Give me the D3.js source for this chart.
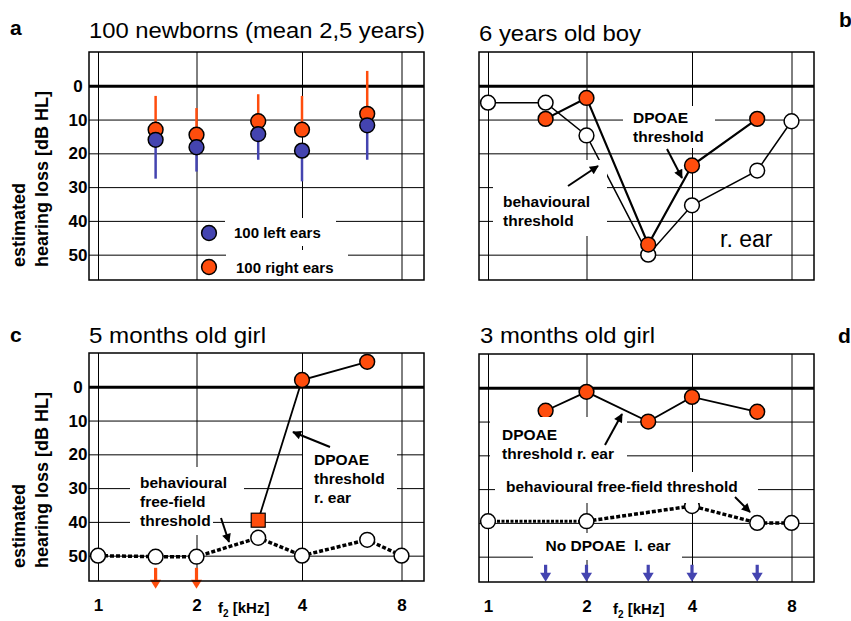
<!DOCTYPE html>
<html>
<head>
<meta charset="utf-8">
<script src="https://cdn.jsdelivr.net/npm/d3@7"></script>
<style>
  body { margin: 0; background: #fff; }
  svg { display: block; font-family: "Liberation Sans", Arial, Helvetica, sans-serif; }
</style>
</head>
<body>
<svg id="chart"></svg>
<script>
// ---- data ----
const freqTicks = [1, 2, 4, 8];
const dbTicks = [0, 10, 20, 30, 40, 50];
const dpFreqs = [1.5, 2, 3, 4, 6.3];

// a: 100 newborns
const newbornRight = [13, 14.5, 10.5, 13, 8.3];
const newbornRightUpper = [3, 6.6, 2.5, 3, -4.4];
const newbornLeft = [16, 18.2, 14.3, 19.2, 11.7];
const newbornLeftLower = [27.5, 25.4, 21.9, 28.3, 21.9];

// b: 6 years old boy
const boyFreqs = [1, 1.5, 2, 3, 4, 6.3, 8];
const boyBehav = [5, 5, 14.7, 50, 35.4, 25.1, 10.5];
const boyDpoae = [9.8, 3.6, 47, 23.6, 9.8];

// c: 5 months old girl
const girl5Freqs = [1, 1.5, 2, 3, 4, 6.3, 8];
const girl5Behav = [50, 50.3, 50.3, 44.7, 50, 45.3, 50];
const girl5DpFreqs = [3, 4, 6.3];
const girl5Dpoae = [39.5, -2, -7.4];
const girl5NoDp = [1.5, 2];

// d: 3 months old girl
const girl3Freqs = [1, 2, 4, 6.3, 8];
const girl3Behav = [39.5, 39.5, 35, 40, 40];
const girl3Dpoae = [6.8, 1.2, 10, 2.7, 7.1];
const girl3NoDp = [1.5, 2, 3, 4, 6.3];

const titles = ["100 newborns (mean 2,5 years)", "6 years old boy", "5 months old girl", "3 months old girl"];
const letters = ["a", "b", "c", "d"];

// ---- drawing ----
const orange = "#ff4d0d", blue = "#4444b0";
const X0 = 89, X1 = 424, Y0 = 52, Y1 = 280;

const svg = d3.select("#chart").attr("width", 851).attr("height", 621);
svg.append("rect").attr("width", 851).attr("height", 621).attr("fill", "#fff");

svg.append("defs").append("marker")
    .attr("id", "head").attr("viewBox", "0 0 10 10")
    .attr("refX", 9).attr("refY", 5)
    .attr("markerWidth", 10).attr("markerHeight", 9)
    .attr("markerUnits", "userSpaceOnUse").attr("orient", "auto")
  .append("path").attr("d", "M0,0L10,5L0,10z").attr("fill", "#000");

const x = d3.scaleLog().domain(freqTicks).range([98, 196.5, 302, 401.5]);
const y = d3.scaleLinear().domain([-10, 57.5]).range([Y0, Y1]);

// small helpers
function txt(g, px, py, s, size, weight, anchor) {
    return g.append("text").attr("x", px).attr("y", py).attr("dy", "0.35em")
        .attr("font-size", size).attr("font-weight", weight || "bold")
        .attr("text-anchor", anchor || "start").attr("fill", "#000").text(s);
}
function box(g, bx, by, bw, bh) {
    g.append("rect").attr("x", bx).attr("y", by).attr("width", bw).attr("height", bh).attr("fill", "#fff");
}
function arrow(g, x1, y1, x2, y2) {
    g.append("line").attr("x1", x1).attr("y1", y1).attr("x2", x2).attr("y2", y2)
        .attr("stroke", "#000").attr("stroke-width", 2).attr("marker-end", "url(#head)");
}
function dots(g, xs, ys, fill) {
    g.append("g").selectAll("circle").data(xs).join("circle")
        .attr("cx", d => x(d)).attr("cy", (d, i) => y(ys[i])).attr("r", 7.4)
        .attr("fill", fill).attr("stroke", "#000").attr("stroke-width", 1.5);
}
function line(g, xs, ys, width, dash) {
    const p = d3.line().x(d => x(d[0])).y(d => y(d[1]));
    g.append("path").attr("d", p(xs.map((f, i) => [f, ys[i]])))
        .attr("fill", "none").attr("stroke", "#000").attr("stroke-width", width)
        .attr("stroke-dasharray", dash || null);
}
function downArrows(g, xs, dbTop, dbTip, color) {
    xs.forEach(f => {
        const cx = x(f), t = y(dbTop), tip = y(dbTip);
        g.append("line").attr("x1", cx).attr("x2", cx).attr("y1", t).attr("y2", tip - 8)
            .attr("stroke", color).attr("stroke-width", 3.2);
        g.append("path").attr("d", `M${cx - 5.5},${tip - 9}L${cx + 5.5},${tip - 9}L${cx},${tip}Z`).attr("fill", color);
    });
}

const panels = [
    { dx: 0,   dy: 0,   tx: 89, ty: 38, tw: 336, lx: 10,  ly: 35 },
    { dx: 390, dy: 0,   tx: 89, ty: 41, tw: 162, lx: 449, ly: 27 },
    { dx: 0,   dy: 301, tx: 89, ty: 42, tw: 177, lx: 10,  ly: 41 },
    { dx: 390, dy: 302, tx: 90, ty: 41, tw: 175, lx: 448, ly: 41 }
];

panels.forEach((p, k) => {
    const g = svg.append("g").attr("transform", `translate(${p.dx},${p.dy})`);
    const left = k % 2 === 0, bottom = k >= 2;

    // title and panel letter
    g.append("text").attr("x", p.tx).attr("y", p.ty).attr("font-size", 22)
        .attr("textLength", p.tw).attr("lengthAdjust", "spacingAndGlyphs").text(titles[k]);
    g.append("text").attr("x", p.lx).attr("y", p.ly).attr("font-size", 21)
        .attr("font-weight", "bold").text(letters[k]);

    // horizontal grid + dB labels
    const gy = g.append("g").attr("transform", `translate(${X0},0)`)
        .call(d3.axisLeft(y).tickValues(dbTicks).tickSize(-(X1 - X0)).tickPadding(0)
            .tickFormat(left ? d3.format("d") : () => ""));
    gy.select(".domain").remove();
    gy.selectAll(".tick line").attr("stroke", "#000").attr("stroke-width", d => d === 0 ? 3 : 1);
    gy.selectAll(".tick text").attr("x", 78 - X0).attr("text-anchor", "middle")
        .attr("font-size", 17).attr("font-weight", "bold").attr("fill", "#000");
    gy.attr("font-family", null).attr("font-size", null);

    // vertical grid + kHz labels
    const gx = g.append("g").attr("transform", `translate(0,${Y1})`)
        .call(d3.axisBottom(x).tickValues(freqTicks).tickSize(-(Y1 - Y0)).tickPadding(18)
            .tickFormat(bottom ? d3.format("d") : () => ""));
    gx.select(".domain").remove();
    gx.selectAll(".tick line").attr("stroke", "#000").attr("stroke-width", 1);
    gx.selectAll(".tick text").attr("font-size", 17).attr("font-weight", "bold")
        .attr("fill", "#000");
    gx.attr("font-family", null).attr("font-size", null);

    if (left) {
        // rotated axis title, reading upward from y = 267
        const yt = g.append("g").attr("transform", "translate(0,267) rotate(-90)");
        yt.append("text").attr("x", 0).attr("y", 19).attr("dy", "0.35em").attr("text-anchor", "start")
            .attr("font-size", 18).attr("font-weight", "bold").text("estimated");
        yt.append("text").attr("x", 0).attr("y", 42).attr("dy", "0.35em").attr("text-anchor", "start")
            .attr("font-size", 18).attr("font-weight", "bold").text("hearing loss [dB HL]");
    }
    if (bottom) {
        const fx = k === 2 ? 218 : 223;
        const t = g.append("text").attr("x", fx).attr("y", 312).attr("font-size", 15).attr("font-weight", "bold");
        t.append("tspan").text("f");
        t.append("tspan").attr("font-size", 10).attr("dy", 4).text("2");
        t.append("tspan").attr("dy", -4).text(" [kHz]");
    }

    const d = g.append("g");
    if (k === 0) {
        d.selectAll(".eb-r").data(dpFreqs).join("line")
            .attr("x1", f => x(f)).attr("x2", f => x(f))
            .attr("y1", (f, i) => y(newbornRightUpper[i])).attr("y2", (f, i) => y(newbornRight[i]))
            .attr("stroke", orange).attr("stroke-width", 2.5);
        d.selectAll(".eb-l").data(dpFreqs).join("line")
            .attr("x1", f => x(f)).attr("x2", f => x(f))
            .attr("y1", (f, i) => y(newbornLeft[i])).attr("y2", (f, i) => y(newbornLeftLower[i]))
            .attr("stroke", blue).attr("stroke-width", 2.5);
        dots(d, dpFreqs, newbornRight, orange);
        dots(d, dpFreqs, newbornLeft, blue);

        box(g, 225, 218, 111, 28);
        box(g, 226, 250, 122, 31);
        g.append("circle").attr("cx", 209).attr("cy", 233).attr("r", 7.4).attr("fill", blue)
            .attr("stroke", "#000").attr("stroke-width", 1.5);
        g.append("circle").attr("cx", 209).attr("cy", 267).attr("r", 7.4).attr("fill", orange)
            .attr("stroke", "#000").attr("stroke-width", 1.5);
        txt(g, 234, 233, "100 left ears", 15);
        txt(g, 236, 268, "100 right ears", 15);
    }
    if (k === 1) {
        line(d, boyFreqs, boyBehav, 1.5);
        line(d, dpFreqs, boyDpoae, 2.2);
        dots(d, boyFreqs, boyBehav, "#fff");
        dots(d, dpFreqs, boyDpoae, orange);

        box(g, 233, 106, 92, 42);
        txt(g, 243, 118, "DPOAE", 15.5);
        txt(g, 243, 137, "threshold", 15.5);
        arrow(g, 277, 149, 292, 178);
        box(g, 103, 160, 114, 76);
        txt(g, 113, 202, "behavioural", 15.5);
        txt(g, 113, 221, "threshold", 15.5);
        arrow(g, 178, 186, 208, 166);
        txt(g, 330, 239, "r. ear", 23, "normal");
    }
    if (k === 2) {
        line(d, girl5Freqs, girl5Behav, 3.5, "4,2");
        line(d, girl5DpFreqs, girl5Dpoae, 1.8);
        dots(d, girl5Freqs, girl5Behav, "#fff");
        dots(d, girl5DpFreqs.slice(1), girl5Dpoae.slice(1), orange);
        d.append("rect").attr("x", x(girl5DpFreqs[0]) - 7).attr("y", y(girl5Dpoae[0]) - 7)
            .attr("width", 14).attr("height", 14).attr("fill", orange)
            .attr("stroke", "#000").attr("stroke-width", 1.2);
        downArrows(d, girl5NoDp, 53.6, 59.8, orange);

        box(g, 130, 166, 114, 51);
        box(g, 130, 217, 83, 17);
        txt(g, 140, 182, "behavioural", 15.5);
        txt(g, 140, 201, "free-field", 15.5);
        txt(g, 140, 220, "threshold", 15.5);
        arrow(g, 221, 217, 229, 241);
        box(g, 303, 144, 94, 62);
        txt(g, 314, 159, "DPOAE", 15.5);
        txt(g, 314, 178, "threshold", 15.5);
        txt(g, 314, 197, "r. ear", 15.5);
        arrow(g, 330, 146, 293, 131);
    }
    if (k === 3) {
        line(d, girl3Freqs.slice(0, 2), girl3Behav.slice(0, 2), 3, "3,1.5");
        line(d, girl3Freqs.slice(1), girl3Behav.slice(1), 3.5, "4,2");
        line(d, dpFreqs, girl3Dpoae, 1.8);
        dots(d, girl3Freqs, girl3Behav, "#fff");
        dots(d, dpFreqs, girl3Dpoae, orange);
        downArrows(d, girl3NoDp, 52.4, 57.4, blue);

        box(g, 100, 115, 137, 55);
        txt(g, 112, 133, "DPOAE", 15.5);
        txt(g, 112, 152, "threshold r. ear", 15.5);
        arrow(g, 215, 143, 232, 112);
        box(g, 105, 170, 263, 31);
        txt(g, 116, 185, "behavioural free-field threshold", 15.5);
        arrow(g, 345, 195, 360, 210);
        box(g, 143, 231, 149, 27);
        txt(g, 218, 244, "No DPOAE\u00a0 l. ear", 15.5, "bold", "middle");
    }

    // frame on top
    g.append("rect").attr("x", X0).attr("y", Y0).attr("width", X1 - X0).attr("height", Y1 - Y0)
        .attr("fill", "none").attr("stroke", "#000").attr("stroke-width", 1.5);
});
</script>
</body>
</html>
